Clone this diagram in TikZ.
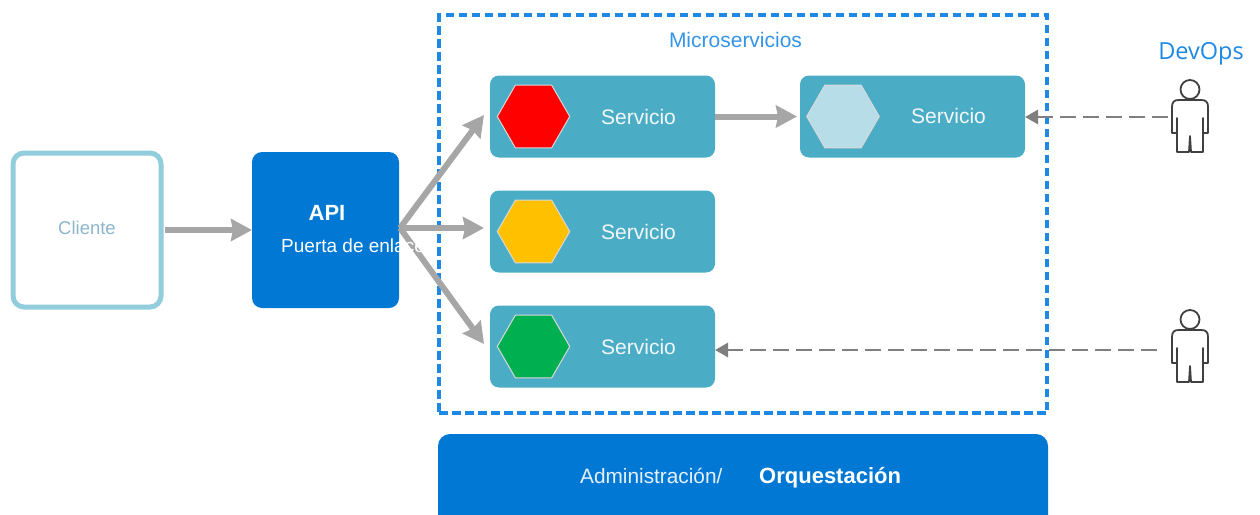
\documentclass[tikz,border=0pt]{standalone}
\usepackage{fontspec}
\setmainfont{Liberation Sans}
\newfontfamily\devfont{Open Sans}
\usetikzlibrary{shapes.geometric,arrows.meta}
\definecolor{azureblue}{HTML}{0078D4}
\definecolor{teal}{HTML}{4BACC6}
\definecolor{paleteal}{HTML}{92CDDC}
\definecolor{dashblue}{HTML}{1E88E5}
\definecolor{arrowgray}{HTML}{A6A6A6}
\definecolor{dashgray}{HTML}{7F7F7F}
\definecolor{hexpale}{HTML}{B7DDE8}
\definecolor{hexred}{HTML}{FF0000}
\definecolor{hexgold}{HTML}{FFC000}
\definecolor{hexgreen}{HTML}{00B050}
\definecolor{clientetext}{HTML}{8DB6CC}
\definecolor{persongray}{HTML}{404040}
\tikzset{
  x=1pt,y=-1pt,
  svcbox/.style={draw=none,fill=teal,rounded corners=9pt,minimum width=225pt,minimum height=82pt,inner sep=0pt,outer sep=0pt},
  bluebox/.style={draw=none,fill=azureblue,rounded corners=10pt,inner sep=0pt,outer sep=0pt},
  hex/.style={regular polygon,regular polygon sides=6,minimum size=72.5pt,inner sep=0pt,outer sep=0pt,draw=white!85!black,line width=1pt},
  flow/.style={draw=arrowgray,line width=6pt,-{Stealth[length=21pt,width=22pt,inset=2pt]}},
  dashflow/.style={draw=dashgray,line width=2.8pt,dash pattern=on 16pt off 7pt,-{Triangle[length=13pt,width=14pt]}},
  svctext/.style={text=white!92!teal,font=\fontsize{21}{24}\selectfont},
  bodyline/.style={draw=persongray,line width=1.8pt,line join=round},
  personfig/.pic={
    \draw[bodyline] (0,-10.5) circle[radius=9.5pt];
    \draw[bodyline,fill=white] (-11,0) -- (11,0)
      .. controls (16,0) and (18,2) .. (18,7)
      -- (18,33) -- (13,33) -- (13,18) -- (13,52) -- (1,52) -- (0,36)
      -- (-1,52) -- (-13,52) -- (-13,18) -- (-13,33) -- (-18,33) -- (-18,7)
      .. controls (-18,2) and (-16,0) .. (-11,0) -- cycle;
  },
}
\begin{document}
\begin{tikzpicture}
\useasboundingbox (0,0) rectangle (1260,514);
% dashed boundary
\node[draw=dashblue,line width=3.3pt,dash pattern=on 8.5pt off 4.5pt,minimum width=608pt,minimum height=398pt,inner sep=0pt,outer sep=0pt] (micro) at (743,214) {};
\node[text=dashblue!90!white,font=\fontsize{21}{24}\selectfont] (microlabel) at (735.5,40) {Microservicios};
% client and gateway
\node[draw=paleteal,fill=white,line width=5pt,rounded corners=11pt,minimum width=148pt,minimum height=154pt,inner sep=0pt] (cliente) at (87,230) {};
\node[text=clientetext,font=\fontsize{18.5}{22}\selectfont] (clientelabel) at (87,228) {Cliente};
\node[bluebox,minimum width=147pt,minimum height=156pt] (api) at (325.5,230) {};
% services
\node[svcbox] (s1) at (602.5,116.5) {};
\node[svcbox] (s2) at (602.5,231.5) {};
\node[svcbox] (s3) at (602.5,346.5) {};
\node[svcbox] (s4) at (912.5,116.5) {};
\node[hex,fill=hexred] (h1) at (533.5,116.5) {};
\node[hex,fill=hexgold] (h2) at (533.5,231.5) {};
\node[hex,fill=hexgreen] (h3) at (533.5,346.5) {};
\node[hex,fill=hexpale] (h4) at (843,116.5) {};
\node[svctext] (t1) at (638.5,117) {Servicio};
\node[svctext] (t2) at (638.5,232) {Servicio};
\node[svctext] (t3) at (638.5,346.5) {Servicio};
\node[svctext] (t4) at (948.5,116) {Servicio};
% gateway flows
\coordinate (apiout) at (400,228);
\draw[flow] (cliente.east) ++(1,0) -- (api.west);
\draw[flow] (apiout) -- ([xshift=-6pt,yshift=1.5pt]s1.west);
\draw[flow] (apiout) -- ([xshift=-6pt,yshift=3.5pt]s2.west);
\draw[flow] (apiout) -- ([xshift=-6pt,yshift=2.5pt]s3.west);
\draw[flow] (s1.east) -- ([xshift=-3pt]s4.west);
% gateway labels
\node[text=white,font=\bfseries\fontsize{22}{26}\selectfont] (apilabel) at (327,213) {API};
\node[anchor=west,text=white,font=\fontsize{19}{22}\selectfont,inner sep=0pt] (puerta) at (281,246) {Puerta de enlace};
% bottom bar
\node[bluebox,rounded corners=12pt,minimum width=610pt,minimum height=100pt] (orq) at (743,484) {};
\node[anchor=west,text=white!90!azureblue,font=\fontsize{20.8}{24}\selectfont,inner sep=0pt] (adm) at (580,476) {Administración/};
\node[anchor=west,text=white,font=\bfseries\fontsize{22}{26}\selectfont,inner sep=0pt] (orqlabel) at (759,478) {Orquestación};
% DevOps
\node[text=dashblue,font=\devfont\fontsize{23.5}{26}\selectfont] (devops) at (1201,54) {DevOps};
% persons
\pic at (1190,100) {personfig};
\pic at (1190,330) {personfig};
\coordinate (p1hand) at (1168,117);
\coordinate (p2hand) at (1157,350);
\draw[dashflow] (p1hand) -- (s4.east |- p1hand);
\draw[dashflow] (p2hand) -- (s3.east |- p2hand);
\end{tikzpicture}
\end{document}
